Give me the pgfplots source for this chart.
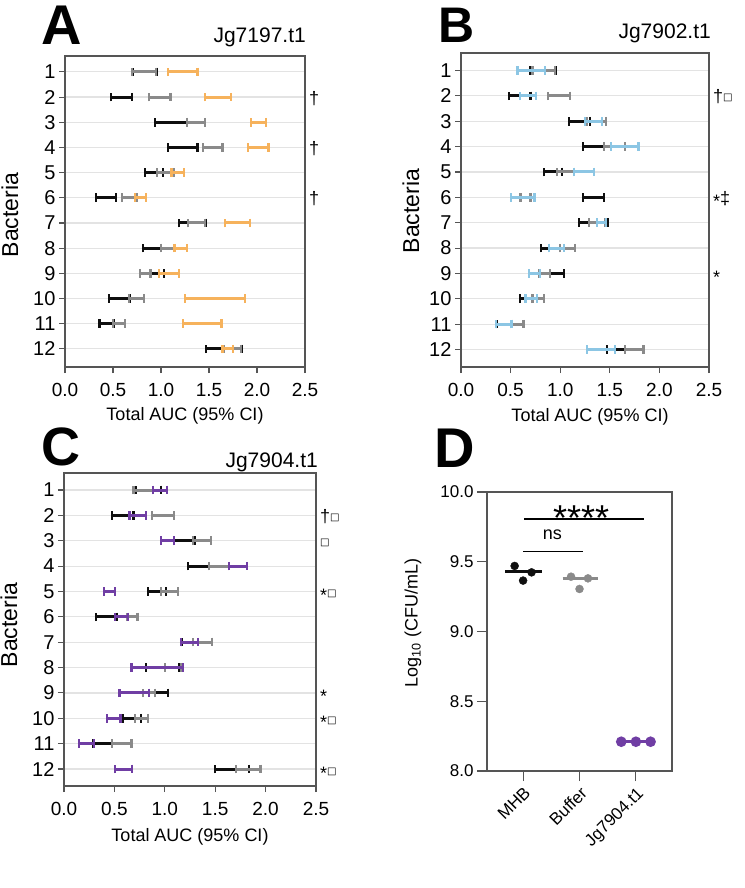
\documentclass[border=0pt]{standalone}
\usepackage{pgfplots}
\pgfplotsset{compat=1.18}
\usepackage{pgfplotstable}
\usepackage{fontspec}
\setmainfont{Liberation Sans}
\newfontfamily\dejavu{DejaVu Sans}
\definecolor{cblack}{RGB}{15,15,15}
\definecolor{cgray}{RGB}{138,138,138}
\definecolor{corange}{RGB}{246,178,92}
\definecolor{cblue}{RGB}{140,198,228}
\definecolor{cpurple}{RGB}{112,62,164}
\definecolor{cframe}{RGB}{85,85,85}

\newcommand{\as}{\raisebox{-3pt}{*}}
\newcommand{\sq}{\raisebox{2pt}{\dejavu\fontsize{10}{10}\selectfont □}}

\pgfplotstableread{
row blo bhi glo ghi clo chi
1 0.71 0.96 0.70 0.95 1.07 1.38
2 0.48 0.70 0.875 1.10 1.455 1.73
3 0.94 1.27 1.27 1.46 1.94 2.09
4 1.07 1.38 1.44 1.64 1.91 2.12
5 0.83 1.02 0.96 1.13 1.11 1.24
6 0.32 0.53 0.59 0.75 0.73 0.84
7 1.19 1.47 1.28 1.46 1.67 1.93
8 0.81 1.00 1.00 1.14 1.14 1.27
9 0.89 1.035 0.78 0.89 0.98 1.19
10 0.46 0.68 0.67 0.82 1.25 1.875
11 0.36 0.51 0.50 0.625 1.23 1.63
12 1.47 1.84 1.65 1.83 1.64 1.75
}\tabA

\pgfplotstableread{
row blo bhi glo ghi clo chi
1 0.70 0.96 0.72 0.95 0.57 0.85
2 0.48 0.70 0.88 1.10 0.595 0.755
3 1.09 1.30 1.27 1.46 1.25 1.42
4 1.23 1.445 1.44 1.65 1.51 1.79
5 0.84 1.02 0.97 1.14 1.14 1.34
6 1.23 1.445 0.60 0.70 0.50 0.74
7 1.19 1.48 1.29 1.45 1.37 1.46
8 0.81 0.89 1.00 1.15 0.89 1.04
9 0.90 1.04 0.79 0.90 0.685 0.795
10 0.595 0.77 0.72 0.84 0.65 0.77
11 0.36 0.51 0.51 0.63 0.35 0.51
12 1.47 1.845 1.65 1.84 1.27 1.55
}\tabB

\pgfplotstableread{
row blo bhi glo ghi clo chi
1 0.71 0.96 0.69 0.88 0.88 1.02
2 0.48 0.69 0.875 1.09 0.65 0.81
3 1.09 1.30 1.28 1.455 0.96 1.09
4 1.23 1.44 1.44 1.64 1.64 1.815
5 0.83 1.01 0.96 1.13 0.40 0.505
6 0.32 0.52 0.63 0.73 0.505 0.635
7 1.17 1.47 1.28 1.47 1.16 1.33
8 0.81 1.14 1.00 1.16 0.67 1.18
9 0.90 1.03 0.78 0.90 0.55 0.845
10 0.58 0.76 0.705 0.83 0.43 0.56
11 0.29 0.48 0.48 0.67 0.145 0.295
12 1.495 1.835 1.71 1.95 0.505 0.675
}\tabC

\tikzset{
  sidenote/.style={anchor=base west, font=\fontsize{18}{18}\selectfont, inner sep=0pt, yshift=-7pt, xshift=4pt},
}
\pgfplotsset{
  aucaxis/.style={
    scale only axis, xmin=0, xmax=2.5, y dir=reverse,
    xtick={0,0.5,1,1.5,2,2.5}, xticklabels={0.0,0.5,1.0,1.5,2.0,2.5},
    ytick={1,2,3,4,5,6,7,8,9,10,11,12},
    yticklabels={1,2,3,4,5,6,7,8,9,10,11,12},
    tick align=outside, major tick length=6pt, xtick pos=bottom, ytick pos=left,
    ymajorgrids, grid style={gray!22, line width=1.2pt},
    axis line style={cframe, line width=1.1pt},
    tick style={cframe, line width=1.1pt},
    xticklabel style={font=\fontsize{19}{19}\selectfont, yshift=-7pt},
    yticklabel style={font=\fontsize{20}{20}\selectfont},
    clip=false,
  },
  ebar/.style={draw=none, mark=none, forget plot,
    error bars/.cd, x dir=both, x explicit,
    error bar style={draw=#1, line width=3pt},
    error mark=|,
    error mark options={draw=#1, line width=2.2pt, mark size=4.3pt}},
}

\newcommand{\threebars}[2]{%
  \addplot[ebar=cblack] table[x expr={(\thisrow{blo}+\thisrow{bhi})/2}, y=row, x error expr={(\thisrow{bhi}-\thisrow{blo})/2}] {#1};
  \addplot[ebar=cgray] table[x expr={(\thisrow{glo}+\thisrow{ghi})/2}, y=row, x error expr={(\thisrow{ghi}-\thisrow{glo})/2}] {#1};
  \addplot[ebar=#2] table[x expr={(\thisrow{clo}+\thisrow{chi})/2}, y=row, x error expr={(\thisrow{chi}-\thisrow{clo})/2}] {#1};
}

\begin{document}
\begin{tikzpicture}
\path[use as bounding box] (0,0) rectangle (744pt,-888pt);

% ---------- Panel A ----------
\begin{axis}[aucaxis, at={(65pt,-367pt)}, anchor=south west, width=240pt, height=311pt, ymin=0.37, ymax=12.72]
\threebars{\tabA}{corange}
\node[sidenote] at (axis cs:2.5,2) {†};
\node[sidenote] at (axis cs:2.5,4) {†};
\node[sidenote] at (axis cs:2.5,6) {†};
\end{axis}
\node[anchor=base west, font=\fontsize{56}{56}\selectfont\bfseries] at (38pt,-45pt) {A};
\node[anchor=base east, font=\fontsize{21}{21}\selectfont, inner sep=0pt] at (306pt,-43pt) {Jg7197.t1};
\node[anchor=base, font=\fontsize{18}{18}\selectfont, inner sep=0pt] at (185pt,-420pt) {Total AUC (95\% CI)};
\node[rotate=90, font=\fontsize{23}{23}\selectfont, inner sep=0pt] at (10pt,-215pt) {Bacteria};

% ---------- Panel B ----------
\begin{axis}[aucaxis, at={(461pt,-367pt)}, anchor=south west, width=248pt, height=314pt, ymin=0.31, ymax=12.69]
\threebars{\tabB}{cblue}
\node[sidenote] at (axis cs:2.5,2) {†\sq};
\node[sidenote] at (axis cs:2.5,6) {\as‡};
\node[sidenote] at (axis cs:2.5,9) {\as};
\end{axis}
\node[anchor=base west, font=\fontsize{50}{50}\selectfont\bfseries] at (435pt,-43pt) {B};
\node[anchor=base east, font=\fontsize{21}{21}\selectfont, inner sep=0pt] at (711pt,-39pt) {Jg7902.t1};
\node[anchor=base, font=\fontsize{18}{18}\selectfont, inner sep=0pt] at (590pt,-421pt) {Total AUC (95\% CI)};
\node[rotate=90, font=\fontsize{23}{23}\selectfont, inner sep=0pt] at (411pt,-211pt) {Bacteria};

% ---------- Panel C ----------
\begin{axis}[aucaxis, at={(64pt,-786pt)}, anchor=south west, width=252pt, height=313pt, ymin=0.33, ymax=12.67]
\threebars{\tabC}{cpurple}
\node[sidenote] at (axis cs:2.5,2) {†\sq};
\node[sidenote] at (axis cs:2.5,3) {\sq};
\node[sidenote] at (axis cs:2.5,5) {\as\sq};
\node[sidenote] at (axis cs:2.5,9) {\as};
\node[sidenote] at (axis cs:2.5,10) {\as\sq};
\node[sidenote] at (axis cs:2.5,12) {\as\sq};
\end{axis}
\node[anchor=base west, font=\fontsize{54}{54}\selectfont\bfseries] at (38pt,-465pt) {C};
\node[anchor=base east, font=\fontsize{21}{21}\selectfont, inner sep=0pt] at (318pt,-467pt) {Jg7904.t1};
\node[anchor=base, font=\fontsize{18}{18}\selectfont, inner sep=0pt] at (190pt,-841pt) {Total AUC (95\% CI)};
\node[rotate=90, font=\fontsize{23}{23}\selectfont, inner sep=0pt] at (9pt,-625pt) {Bacteria};

% ---------- Panel D ----------
\begin{axis}[at={(487pt,-771pt)}, anchor=south west, scale only axis, width=185pt, height=279pt,
  xmin=-0.64, xmax=2.64, ymin=8, ymax=10,
  xtick={0,1,2}, xticklabels={MHB,Buffer,Jg7904.t1},
  ytick={8,8.5,9,9.5,10}, yticklabels={8.0,8.5,9.0,9.5,10.0},
  tick align=outside, major tick length=10pt, xtick pos=bottom, ytick pos=left,
  axis line style={cframe, line width=1.1pt}, tick style={cframe, line width=1.1pt},
  xticklabel style={rotate=45, anchor=north east, font=\fontsize{17}{17}\selectfont},
  yticklabel style={font=\fontsize{17}{17}\selectfont},
  clip=false]
\addplot[cblack, line width=2.5pt] coordinates {(-0.32,9.43) (0.33,9.43)};
\addplot[only marks, mark=*, mark size=4pt, color=cblack] coordinates {(-0.15,9.47) (0,9.365) (0.15,9.424)};
\addplot[cgray, line width=2.5pt] coordinates {(0.70,9.379) (1.33,9.379)};
\addplot[only marks, mark=*, mark size=4pt, color=cgray] coordinates {(0.85,9.393) (1,9.305) (1.15,9.381)};
\addplot[cpurple, line width=2.5pt, mark=*, mark size=4pt] coordinates {(1.74,8.21) (2,8.21) (2.26,8.21)};
\addplot[black, line width=1.3pt] coordinates {(0.02,9.806) (2.14,9.806)};
\addplot[black, line width=1.3pt] coordinates {(0,9.575) (1.06,9.575)};
\node[anchor=base, font=\fontsize{36}{36}\selectfont, inner sep=0pt] at (axis cs:1.03,9.724) {****};
\node[anchor=base, font=\fontsize{18}{18}\selectfont, inner sep=0pt] at (axis cs:0.52,9.663) {ns};
\end{axis}
\node[anchor=base west, font=\fontsize{56}{56}\selectfont\bfseries] at (431pt,-467pt) {D};
\node[rotate=90, font=\fontsize{18}{18}\selectfont, inner sep=0pt] at (413pt,-623pt) {Log\textsubscript{10} (CFU/mL)};
\end{tikzpicture}
\end{document}
